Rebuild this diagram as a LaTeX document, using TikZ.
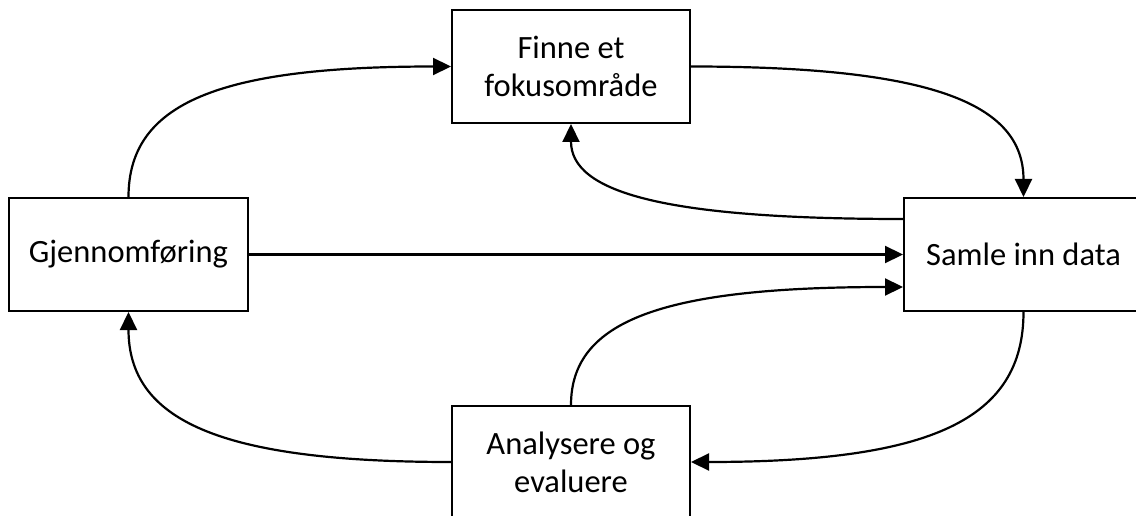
\documentclass[tikz,border=0pt]{standalone}
\usepackage{fontspec}
\setmainfont{Carlito}
\usetikzlibrary{arrows.meta,calc}
\begin{document}
\begin{tikzpicture}[x=1pt,y=-1pt,
  box/.style={draw=black, line width=2pt, fill=white, minimum width=238pt, minimum height=113pt, inner sep=0pt, align=center, font=\fontsize{32.5}{38}\selectfont},
  conn/.style={draw=black, line width=2.2pt, -{Triangle[length=18pt,width=17pt]}},
  quad/.style n args={3}{insert path={.. controls ($(#1)!0.72!(#2)$) and ($(#3)!0.72!(#2)$) .. (#3)}}]
\useasboundingbox (0,0) rectangle (1136,516);
\clip (0,0) rectangle (1136,516);
\node[box] (T) at (571,66.5) {Finne et\\fokusområde};
\node[box, minimum width=239pt] (L) at (128.5,254.5) {Gjennomføring};
\node[box, minimum width=239pt] (R) at (1023.5,254.5) {Samle inn data};
\node[box, minimum height=112pt] (B) at (571,462) {Analysere og\\evaluere};
\coordinate (R3) at ([yshift=35.5pt]R.west);
\coordinate (R5) at ([yshift=-32.5pt]R.west);
\coordinate (c1) at (L.north |- T.west);
\coordinate (c2) at (R.north |- T.east);
\coordinate (c3) at (T.south |- R3);
\coordinate (c5) at (B.north |- R5);
\coordinate (c6) at (R.south |- B.east);
\coordinate (c7) at (L.south |- B.west);
\draw[conn] (L.north) [quad={L.north}{c1}{T.west}];
\draw[conn] (T.east) [quad={T.east}{c2}{R.north}];
\draw[conn] (R3) [quad={R3}{c3}{T.south}];
\draw[conn] (L.east) -- (R.west);
\draw[conn] (B.north) [quad={B.north}{c5}{R5}];
\draw[conn] (R.south) [quad={R.south}{c6}{B.east}];
\draw[conn] (B.west) [quad={B.west}{c7}{L.south}];
\end{tikzpicture}
\end{document}
